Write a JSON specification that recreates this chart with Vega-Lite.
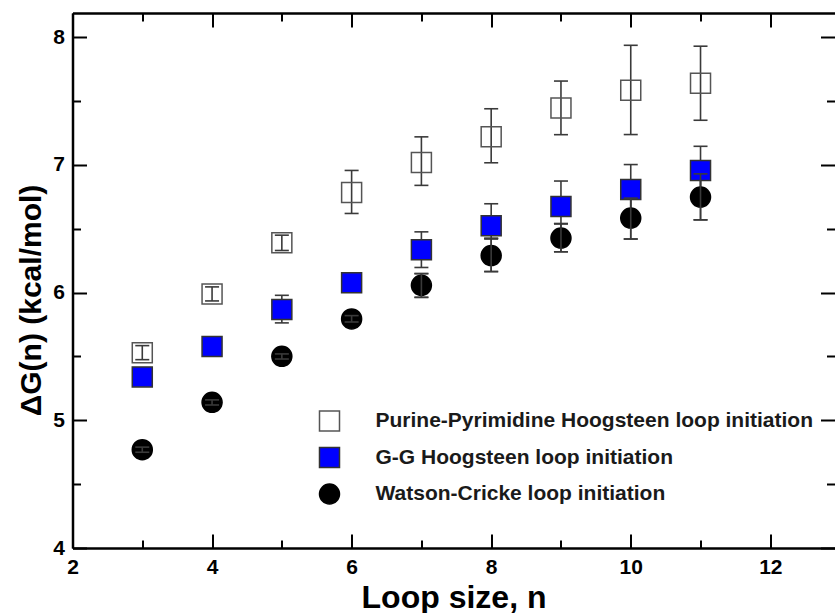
{
  "$schema": "https://vega.github.io/schema/vega-lite/v6.json",
  "width": 762,
  "height": 535,
  "autosize": {"type": "none"},
  "padding": {"left": 72.5, "top": 13, "right": 0, "bottom": 65},
  "background": "white",
  "config": {"view": {"stroke": null}, "font": "Liberation Sans"},
  "data": {"values": [
    {"n": 3, "series": "Purine-Pyrimidine Hoogsteen loop initiation", "v": 5.53, "lo": 5.475, "hi": 5.585},
    {"n": 4, "series": "Purine-Pyrimidine Hoogsteen loop initiation", "v": 5.99, "lo": 5.935, "hi": 6.045},
    {"n": 5, "series": "Purine-Pyrimidine Hoogsteen loop initiation", "v": 6.39, "lo": 6.33, "hi": 6.45},
    {"n": 6, "series": "Purine-Pyrimidine Hoogsteen loop initiation", "v": 6.785, "lo": 6.62, "hi": 6.957},
    {"n": 7, "series": "Purine-Pyrimidine Hoogsteen loop initiation", "v": 7.02, "lo": 6.84, "hi": 7.22},
    {"n": 8, "series": "Purine-Pyrimidine Hoogsteen loop initiation", "v": 7.22, "lo": 7.017, "hi": 7.44},
    {"n": 9, "series": "Purine-Pyrimidine Hoogsteen loop initiation", "v": 7.446, "lo": 7.237, "hi": 7.657},
    {"n": 10, "series": "Purine-Pyrimidine Hoogsteen loop initiation", "v": 7.585, "lo": 7.238, "hi": 7.937},
    {"n": 11, "series": "Purine-Pyrimidine Hoogsteen loop initiation", "v": 7.64, "lo": 7.35, "hi": 7.93},
    {"n": 3, "series": "G-G Hoogsteen loop initiation", "v": 5.34, "lo": 5.32, "hi": 5.36},
    {"n": 4, "series": "G-G Hoogsteen loop initiation", "v": 5.579, "lo": 5.56, "hi": 5.6},
    {"n": 5, "series": "G-G Hoogsteen loop initiation", "v": 5.867, "lo": 5.763, "hi": 5.979},
    {"n": 6, "series": "G-G Hoogsteen loop initiation", "v": 6.078, "lo": 6.01, "hi": 6.15},
    {"n": 7, "series": "G-G Hoogsteen loop initiation", "v": 6.335, "lo": 6.197, "hi": 6.476},
    {"n": 8, "series": "G-G Hoogsteen loop initiation", "v": 6.523, "lo": 6.42, "hi": 6.696},
    {"n": 9, "series": "G-G Hoogsteen loop initiation", "v": 6.675, "lo": 6.54, "hi": 6.874},
    {"n": 10, "series": "G-G Hoogsteen loop initiation", "v": 6.807, "lo": 6.62, "hi": 7.003},
    {"n": 11, "series": "G-G Hoogsteen loop initiation", "v": 6.956, "lo": 6.77, "hi": 7.146},
    {"n": 3, "series": "Watson-Cricke loop initiation", "v": 4.77, "lo": 4.75, "hi": 4.79},
    {"n": 4, "series": "Watson-Cricke loop initiation", "v": 5.141, "lo": 5.12, "hi": 5.16},
    {"n": 5, "series": "Watson-Cricke loop initiation", "v": 5.501, "lo": 5.48, "hi": 5.52},
    {"n": 6, "series": "Watson-Cricke loop initiation", "v": 5.794, "lo": 5.77, "hi": 5.82},
    {"n": 7, "series": "Watson-Cricke loop initiation", "v": 6.057, "lo": 5.963, "hi": 6.149},
    {"n": 8, "series": "Watson-Cricke loop initiation", "v": 6.29, "lo": 6.165, "hi": 6.425},
    {"n": 9, "series": "Watson-Cricke loop initiation", "v": 6.427, "lo": 6.32, "hi": 6.54},
    {"n": 10, "series": "Watson-Cricke loop initiation", "v": 6.584, "lo": 6.42, "hi": 6.74},
    {"n": 11, "series": "Watson-Cricke loop initiation", "v": 6.748, "lo": 6.57, "hi": 6.93}
  ]},
  "resolve": {"axis": {"x": "independent", "y": "independent"}},
  "layer": [
    {
      "mark": {"type": "rule", "color": "#3a3a3a", "strokeWidth": 1.6},
      "encoding": {
        "x": {"field": "n", "type": "quantitative",
          "scale": {"domain": [2, 12.92], "nice": false, "zero": false},
          "axis": {"orient": "bottom", "values": [2, 3, 4, 5, 6, 7, 8, 9, 10, 11, 12],
            "tickSize": {"condition": {"test": "datum.value % 2 === 0", "value": -14}, "value": -8},
            "tickWidth": 2, "tickColor": "black", "domainColor": "black", "domainWidth": 2.5,
            "labelExpr": "datum.value % 2 === 0 ? format(datum.value, 'd') : ''",
            "labelFont": "Liberation Sans", "labelFontSize": 21, "labelFontWeight": "bold", "labelColor": "black",
            "labelPadding": 22, "labelFlush": false, "labelOverlap": false, "labelBound": false, "grid": false,
            "title": "Loop size, n", "titleFont": "Liberation Sans", "titleFontSize": 32, "titleFontWeight": "bold",
            "titleColor": "black", "titlePadding": -1}},
        "y": {"field": "lo", "type": "quantitative",
          "scale": {"domain": [4, 8.19], "nice": false, "zero": false},
          "axis": {"orient": "left", "values": [4, 4.5, 5, 5.5, 6, 6.5, 7, 7.5, 8],
            "tickSize": {"condition": {"test": "datum.value % 1 === 0", "value": -14}, "value": -8},
            "tickWidth": 2, "tickColor": "black", "domainColor": "black", "domainWidth": 2.5,
            "labelExpr": "datum.value % 1 === 0 ? format(datum.value, 'd') : ''",
            "labelFont": "Liberation Sans", "labelFontSize": 21, "labelFontWeight": "bold", "labelColor": "black",
            "labelPadding": 22, "labelFlush": false, "labelOverlap": false, "labelBound": false, "grid": false,
            "title": "ΔG(n) (kcal/mol)", "titleFont": "Liberation Sans", "titleFontSize": 30, "titleFontWeight": "bold",
            "titleColor": "black", "titlePadding": 6, "titleY": 287}},
        "y2": {"field": "hi"}
      }
    },
    {
      "mark": {"type": "tick", "orient": "horizontal", "size": 14, "thickness": 1.6, "color": "#3a3a3a", "opacity": 1},
      "encoding": {
        "x": {"field": "n", "type": "quantitative",
          "axis": {"orient": "top", "values": [2, 3, 4, 5, 6, 7, 8, 9, 10, 11, 12],
            "tickSize": {"condition": {"test": "datum.value % 2 === 0", "value": -14}, "value": -8},
            "tickWidth": 2, "tickColor": "black", "domainColor": "black", "domainWidth": 2.5,
            "labels": false, "grid": false, "title": null}},
        "y": {"field": "lo", "type": "quantitative",
          "axis": {"orient": "right", "values": [4, 4.5, 5, 5.5, 6, 6.5, 7, 7.5, 8],
            "tickSize": {"condition": {"test": "datum.value % 1 === 0", "value": -14}, "value": -8},
            "tickWidth": 2, "tickColor": "black", "domain": false,
            "labels": false, "grid": false, "title": null}}
      }
    },
    {
      "mark": {"type": "tick", "orient": "horizontal", "size": 14, "thickness": 1.6, "color": "#3a3a3a", "opacity": 1},
      "encoding": {
        "x": {"field": "n", "type": "quantitative", "axis": null},
        "y": {"field": "hi", "type": "quantitative", "axis": null}
      }
    },
    {
      "mark": {"type": "point", "opacity": 1, "strokeWidth": 1.5},
      "encoding": {
        "x": {"field": "n", "type": "quantitative", "axis": null},
        "y": {"field": "v", "type": "quantitative", "axis": null},
        "shape": {"field": "series", "type": "nominal",
          "scale": {"domain": ["Purine-Pyrimidine Hoogsteen loop initiation", "G-G Hoogsteen loop initiation", "Watson-Cricke loop initiation"], "range": ["square", "square", "circle"]},
          "legend": {"orient": "none", "legendX": 246, "legendY": 397, "title": null,
            "labelFont": "Liberation Sans", "labelFontSize": 21, "labelFontWeight": "bold", "labelColor": "#1a1a1a",
            "labelOffset": 35, "rowPadding": 10.5, "labelLimit": 0, "symbolStrokeWidth": 1.5}},
        "fill": {"field": "series", "type": "nominal",
          "scale": {"domain": ["Purine-Pyrimidine Hoogsteen loop initiation", "G-G Hoogsteen loop initiation", "Watson-Cricke loop initiation"], "range": ["transparent", "#0000ff", "#000000"]}},
        "stroke": {"field": "series", "type": "nominal",
          "scale": {"domain": ["Purine-Pyrimidine Hoogsteen loop initiation", "G-G Hoogsteen loop initiation", "Watson-Cricke loop initiation"], "range": ["#555555", "#333333", "#000000"]}},
        "size": {"field": "series", "type": "nominal",
          "scale": {"domain": ["Purine-Pyrimidine Hoogsteen loop initiation", "G-G Hoogsteen loop initiation", "Watson-Cricke loop initiation"], "range": [400, 400, 452]}}
      }
    },
    {
      "transform": [{"filter": "datum.series === 'Watson-Cricke loop initiation'"}],
      "mark": {"type": "rule", "color": "#3a3a3a", "strokeWidth": 1.6},
      "encoding": {
        "x": {"field": "n", "type": "quantitative", "axis": null},
        "y": {"field": "lo", "type": "quantitative", "axis": null},
        "y2": {"field": "hi"}
      }
    },
    {
      "transform": [{"filter": "datum.series === 'Watson-Cricke loop initiation'"}],
      "mark": {"type": "tick", "orient": "horizontal", "size": 14, "thickness": 1.6, "color": "#3a3a3a", "opacity": 1},
      "encoding": {
        "x": {"field": "n", "type": "quantitative", "axis": null},
        "y": {"field": "lo", "type": "quantitative", "axis": null}
      }
    },
    {
      "transform": [{"filter": "datum.series === 'Watson-Cricke loop initiation'"}],
      "mark": {"type": "tick", "orient": "horizontal", "size": 14, "thickness": 1.6, "color": "#3a3a3a", "opacity": 1},
      "encoding": {
        "x": {"field": "n", "type": "quantitative", "axis": null},
        "y": {"field": "hi", "type": "quantitative", "axis": null}
      }
    }
  ]
}
